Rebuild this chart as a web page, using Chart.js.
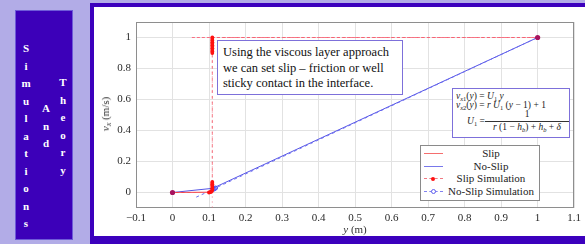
<!DOCTYPE html>
<html><head><meta charset="utf-8">
<script src="https://cdn.jsdelivr.net/npm/chart.js@4.4.0/dist/chart.umd.min.js"></script>
<style>
html,body{margin:0;padding:0;}
body{width:585px;height:244px;background:#b2ace7;position:relative;overflow:hidden;font-family:"Liberation Serif","DejaVu Serif",serif;}
#side{position:absolute;left:15px;top:10px;width:56px;height:228px;background:#3c00b9;border:1px solid #6e5ad8;}
.col{position:absolute;color:#fff;font-weight:bold;font-size:11px;line-height:17.5px;text-align:center;width:14px;}
#frame{position:absolute;left:90px;top:3px;width:520px;height:229px;background:#fff;border-style:solid;border-color:#3c00bd;border-width:4px 0 14px 4px;}
#cv{position:absolute;left:94px;top:7px;}
.note{position:absolute;background:#fff;border:1px solid #7d70da;box-sizing:border-box;color:#111;}
#note1{left:217px;top:40px;width:186px;height:55px;font-size:12.5px;line-height:15.5px;padding:4px 0 0 5px;white-space:nowrap;}
#note2{left:452px;top:88px;width:118px;height:50px;font-size:9.5px;color:#222;white-space:nowrap;}
#note2 .ln{position:absolute;line-height:10px;}
#note2 sub{font-size:6.5px;vertical-align:-2px;line-height:0;}
.frac{position:absolute;text-align:center;}
#ytitle{position:absolute;left:105px;top:114px;transform:translate(-50%,-50%) rotate(-90deg);font-size:11px;color:#333;white-space:nowrap;}
#ytitle sub{font-size:8px;vertical-align:-2px;line-height:0;}
#xtitle{position:absolute;left:355px;top:229px;transform:translate(-50%,-50%);font-size:11px;color:#333;white-space:nowrap;}
#legend{position:absolute;left:420px;top:145px;width:120px;height:56px;box-sizing:border-box;border:1px solid #8a8a8a;background:#fff;padding:1px 0 0 0;}
.lrow{position:relative;height:12.6px;font-size:11px;line-height:12.6px;color:#222;}
.lsw{position:absolute;left:3px;top:0;width:19px;height:12.6px;}
.ltx{position:absolute;left:24px;width:92px;text-align:center;white-space:nowrap;}
</style></head>
<body>
<div id="side">
  <div class="col" style="left:3px;top:29px;">S<br>i<br>m<br>u<br>l<br>a<br>t<br>i<br>o<br>n<br>s</div>
  <div class="col" style="left:23px;top:89px;">A<br>n<br>d</div>
  <div class="col" style="left:40px;top:63px;">T<br>h<br>e<br>o<br>r<br>y</div>
</div>
<div id="frame"></div>
<canvas id="cv" width="491" height="228"></canvas>
<div id="ytitle"><i>v</i><sub><i>x</i></sub> (m/s)</div>
<div id="xtitle"><i>y</i> (m)</div>
<div class="note" id="note1">Using the viscous layer approach<br>we can set slip – friction or well<br>sticky contact in the interface.</div>
<div class="note" id="note2">
  <div class="ln" style="left:3px;top:2px;"><i>v</i><sub><i>x</i>1</sub>(<i>y</i>) = <i>U</i><sub>1</sub> <i>y</i></div>
  <div class="ln" style="left:3px;top:11px;"><i>v</i><sub><i>x</i>2</sub>(<i>y</i>) = <i>r</i> <i>U</i><sub>1</sub> (<i>y</i> − 1) + 1</div>
  <div class="ln" style="left:14px;top:27px;"><i>U</i><sub>1</sub> =</div>
  <div class="frac" style="left:32px;top:20px;width:84px;">
    <div style="line-height:10px;">1</div>
    <div style="border-top:0.8px solid #333;margin:2px 0 0 0;line-height:11px;"><i>r</i> (1 − <i>h</i><sub><i>b</i></sub>) + <i>h</i><sub><i>b</i></sub> + <i>δ</i></div>
  </div>
</div>
<div id="legend"></div>
<script>
// ---- data ----
const xTicks = [-0.1, 0, 0.1, 0.2, 0.3, 0.4, 0.5, 0.6, 0.7, 0.8, 0.9, 1, 1.1];
const yTicks = [0, 0.2, 0.4, 0.6, 0.8, 1];

const slipX = [0, 0.1];
const slipY = [0, 0.002];
const slipOuterX = [0.053, 1];
const slipOuterY = [1, 1];
const interfaceX = [0.109, 0.109];
const interfaceY = [-0.1, 1];

const noSlipX = [0, 0.11, 1];
const noSlipY = [0, 0.027, 1];

const slipSimX = [0, 0.100, 0.103, 0.106, 0.108, 0.109, 0.109, 0.109, 0.109, 0.109, 0.109, 0.109,
                  0.109, 0.109, 0.109, 0.109, 0.109, 0.109, 0.109, 0.109, 0.109, 0.109, 0.109, 1];
const slipSimY = [0, 0.000, 0.002, 0.005, 0.010, 0.018, 0.027, 0.036, 0.045, 0.054, 0.062, 0.068,
                  0.90, 0.91, 0.92, 0.93, 0.94, 0.95, 0.96, 0.97, 0.98, 0.99, 1.00, 1];

const noSlipSimX = [0.065, 0.112, 0.115, 0.118, 1];
const noSlipSimY = [-0.03, 0.021, 0.025, 0.029, 1];

function pts(xs, ys) { return xs.map((x, i) => ({ x: x, y: ys[i] })); }

const RED = 'rgb(245,60,60)', REDD = 'rgba(245,95,110,0.8)', BLUE = 'rgb(85,85,230)', BLUED = 'rgb(110,110,240)';

const datasets = [
  { label: 'Slip Simulation', leg: 2, legColor: 'rgb(240,120,130)', data: pts(slipSimX, slipSimY), showLine: true,
    borderColor: REDD, borderWidth: 1, borderDash: [3, 3],
    pointRadius: c => (c.dataIndex === 0 || c.dataIndex === slipSimX.length - 1) ? 2.6 : 1.9,
    pointBackgroundColor: c => (c.dataIndex === 0 || c.dataIndex === slipSimX.length - 1) ? '#a6125e' : '#ff1010',
    pointBorderWidth: 0 },
  { label: 'No-Slip Simulation', leg: 3, legColor: 'rgb(130,130,240)', data: pts(noSlipSimX, noSlipSimY), showLine: true,
    borderColor: BLUED, borderWidth: 1, borderDash: [3, 3],
    pointRadius: c => c.dataIndex === 0 || c.dataIndex === noSlipSimX.length - 1 ? 0 : 2,
    pointBackgroundColor: 'rgba(255,255,255,0)', pointBorderColor: '#5050f0', pointBorderWidth: 1 },
  { label: 'Slip', leg: 0, legColor: 'rgb(245,110,110)', data: pts(slipX, slipY), showLine: true,
    borderColor: RED, borderWidth: 1, pointRadius: 0 },
  { label: 'No-Slip', leg: 1, legColor: 'rgb(120,120,235)', data: pts(noSlipX, noSlipY), showLine: true,
    borderColor: BLUE, borderWidth: 1, pointRadius: 0 },
  { label: 'slip outer', data: pts(slipOuterX, slipOuterY), showLine: true,
    borderColor: 'rgb(250,110,130)', borderWidth: 1, borderDash: [3, 2], pointRadius: 0 },
  { label: 'interface', data: pts(interfaceX, interfaceY), showLine: true,
    borderColor: 'rgba(235,110,130,0.45)', borderWidth: 1, borderDash: [2, 3], pointRadius: 0 }
];

const frameBorder = {
  id: 'frameBorder',
  beforeDatasetsDraw(chart) {
    const { ctx, chartArea: a } = chart;
    ctx.save();
    ctx.strokeStyle = '#8e8e8e';
    ctx.lineWidth = 1;
    ctx.strokeRect(Math.round(a.left) + 0.5, Math.round(a.top) + 0.5,
                   Math.round(a.right - a.left) - 1, Math.round(a.bottom - a.top) - 1);
    ctx.restore();
  }
};

const fmt = v => { const r = Math.round(v * 10) / 10; return r < 0 ? '\u2212' + Math.abs(r) : String(r); };
const tickFont = { family: "'Liberation Serif', 'DejaVu Serif', serif", size: 11 };

const chart = new Chart(document.getElementById('cv'), {
  type: 'scatter',
  data: { datasets: datasets },
  plugins: [frameBorder],
  options: {
    responsive: false, animation: false, devicePixelRatio: 1,
    layout: { padding: { left: 0, right: 10, top: 15, bottom: 0 } },
    plugins: { legend: { display: false }, tooltip: { enabled: false } },
    scales: {
      x: { type: 'linear', min: -0.1, max: 1.1,
        afterBuildTicks: s => { s.ticks = xTicks.map(v => ({ value: v })); },
        afterFit: s => { s.height = 27; },
        grid: { color: '#e2e2e2', drawTicks: false, lineWidth: 1 },
        border: { display: false },
        ticks: { callback: fmt, font: tickFont, color: '#2a2a2a', padding: 4, maxRotation: 0, autoSkip: false } },
      y: { type: 'linear', min: -0.1, max: 1.1,
        afterBuildTicks: s => { s.ticks = yTicks.map(v => ({ value: v })); },
        afterFit: s => { s.width = 42; },
        grid: { color: '#e2e2e2', drawTicks: false, lineWidth: 1 },
        border: { display: false },
        ticks: { callback: fmt, font: tickFont, color: '#2a2a2a', padding: 5, autoSkip: false } }
    }
  }
});

// HTML legend built from the chart's datasets
(function buildLegend() {
  const box = document.getElementById('legend');
  const items = chart.data.datasets.filter(d => d.leg !== undefined).sort((a, b) => a.leg - b.leg);
  items.forEach(d => {
    const row = document.createElement('div'); row.className = 'lrow';
    const sw = document.createElement('div'); sw.className = 'lsw';
    const dashed = !!d.borderDash;
    const line = document.createElement('div');
    line.style.cssText = 'position:absolute;left:0;top:6px;width:19px;height:0;border-top:1px ' +
      (dashed ? 'dashed ' : 'solid ') + d.legColor + ';';
    sw.appendChild(line);
    if (dashed) {
      const m = document.createElement('div');
      const open = d.label.indexOf('No-Slip') === 0;
      m.style.cssText = 'position:absolute;left:7px;top:' + (open ? 4 : 4.5) + 'px;width:' + (open ? 3 : 4) + 'px;height:' + (open ? 3 : 4) +
        'px;border-radius:50%;background:' + (open ? '#fff' : '#ff1010') + ';' + (open ? 'border:1px solid #6060f0;' : '');
      sw.appendChild(m);
    }
    const tx = document.createElement('div'); tx.className = 'ltx'; tx.textContent = d.label;
    row.appendChild(sw); row.appendChild(tx); box.appendChild(row);
  });
})();
</script>
</body></html>
